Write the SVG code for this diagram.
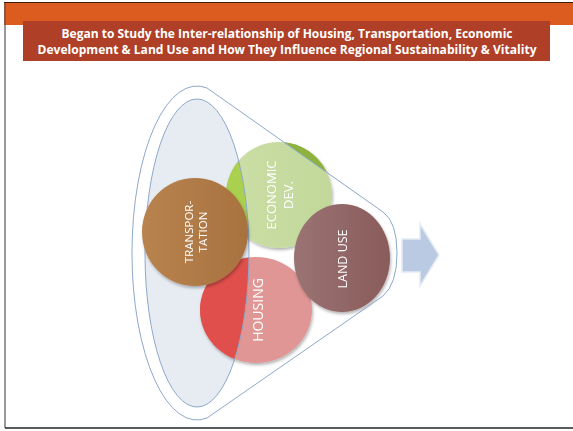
<svg xmlns="http://www.w3.org/2000/svg" width="573" height="431" viewBox="0 0 573 431">
<defs>
<style>
.ttl{font-family:"Open Sans","Liberation Sans",sans-serif;font-weight:bold;font-size:12.5px;fill:#ffffff;text-anchor:middle}
.lbl{font-family:"Open Sans","Liberation Sans",sans-serif;fill:#ffffff;text-anchor:middle;dominant-baseline:central}
.fun{fill:none;stroke:#8EA8CB;stroke-width:1}
</style>
<filter id="sh" x="-20%" y="-20%" width="140%" height="140%">
<feDropShadow dx="1" dy="2" stdDeviation="1.5" flood-color="#000" flood-opacity="0.3"/>
</filter>
<clipPath id="inner"><ellipse cx="197" cy="253" rx="52" ry="154"/></clipPath>
<clipPath id="aboveLine"><polygon points="207,88 383,212 400,212 400,60 200,60"/></clipPath>
<clipPath id="ecoC"><circle cx="279" cy="195" r="53"/></clipPath>
<clipPath id="houC"><ellipse cx="256" cy="310" rx="56" ry="53"/></clipPath>
<linearGradient id="gTr" x1="0" y1="0" x2="1" y2="0"><stop offset="0" stop-color="#B8834E"/><stop offset="1" stop-color="#A87240"/></linearGradient>
<linearGradient id="gLu" x1="0" y1="0" x2="1" y2="0"><stop offset="0" stop-color="#9A7373"/><stop offset="1" stop-color="#8A5B5B"/></linearGradient>
<linearGradient id="gEco" x1="0" y1="0" x2="1" y2="0"><stop offset="0" stop-color="#CBDEA6"/><stop offset="1" stop-color="#C2D89A"/></linearGradient>
</defs>
<rect x="0" y="0" width="573" height="431" fill="#ffffff"/>
<g id="frame">
<rect x="4" y="3" width="569" height="22" fill="#DC5B1E"/>
<line x1="4" y1="2.5" x2="573" y2="2.5" stroke="#3a1a0a" stroke-width="1"/>
<line x1="5" y1="3" x2="5" y2="428" stroke="#555" stroke-width="1.2"/>
<line x1="5" y1="428" x2="573" y2="428" stroke="#222" stroke-width="1.5"/>
</g>
<g id="title">
<rect x="23" y="21" width="527" height="40" fill="#B03F27"/>
<text class="ttl" x="287" y="38" textLength="451" lengthAdjust="spacingAndGlyphs">Began to Study the Inter-relationship of Housing, Transportation, Economic</text>
<text class="ttl" x="287" y="54" textLength="499" lengthAdjust="spacingAndGlyphs">Development &amp; Land Use and How They Influence Regional Sustainability &amp; Vitality</text>
</g>
<g id="funnel">
<path d="M207,88 L383,212 Q397,222 397,253 Q397,284 383,296 L207,418 A65,167 0 1 1 207,88 Z" fill="#ffffff"/>
<ellipse cx="197" cy="253" rx="52" ry="154" fill="#E7ECF3"/>
</g>
<g id="economic" filter="url(#sh)">
<circle cx="279" cy="195" r="53" fill="url(#gEco)"/>
<g clip-path="url(#ecoC)">
<rect x="220" y="130" width="120" height="130" fill="#A9D14F" clip-path="url(#inner)"/>
<rect x="220" y="130" width="120" height="130" fill="#8DB23E" clip-path="url(#aboveLine)"/>
</g>
<text class="lbl" transform="translate(279,195) rotate(-90)" font-size="13"><tspan x="0" y="-8">ECONOMIC</tspan><tspan x="0" y="9">DEV.</tspan></text>
</g>
<g id="housing" filter="url(#sh)">
<ellipse cx="256" cy="310" rx="56" ry="53" fill="#E09694"/>
<g clip-path="url(#houC)">
<rect x="195" y="250" width="120" height="120" fill="#E0504C" clip-path="url(#inner)"/>
</g>
<text class="lbl" transform="translate(257,310) rotate(-90)" font-size="14">HOUSING</text>
</g>
<g id="landuse" filter="url(#sh)">
<ellipse cx="342" cy="258" rx="48" ry="54" fill="url(#gLu)"/>
<text class="lbl" transform="translate(342,259) rotate(-90)" font-size="12.5">LAND USE</text>
</g>
<g id="connectors">
<path class="fun" d="M207,88 L383,212 Q397,222 397,253 Q397,284 383,296 L207,418 A65,167 0 1 1 207,88 Z"/>
<ellipse class="fun" cx="197" cy="253" rx="52" ry="154"/>
</g>
<g id="transportation" filter="url(#sh)">
<ellipse cx="195" cy="232" rx="53" ry="54" fill="url(#gTr)"/>
<text class="lbl" transform="translate(195,232) rotate(-90)" font-size="11.5"><tspan x="0" y="-7">TRANSPOR-</tspan><tspan x="0" y="7">TATION</tspan></text>
</g>
<g id="arrow">
<polygon points="402,239 420,239 420,224 439,255 420,286 420,272 402,272" fill="#B9CAE2" stroke="#E4EBF5" stroke-width="1.5"/>
</g>
</svg>
